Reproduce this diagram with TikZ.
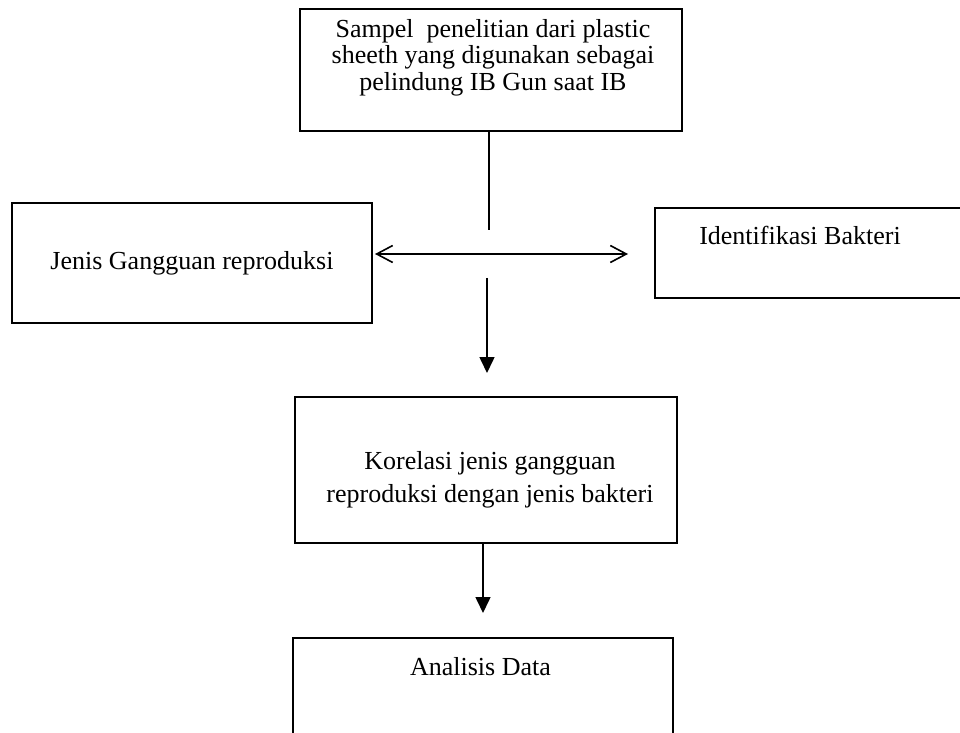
\documentclass[tikz,border=0pt]{standalone}
\usepackage{fontspec}
\setmainfont{Liberation Serif}
\usetikzlibrary{arrows.meta}

\tikzset{
  box/.style={draw, line width=0.9pt, inner sep=0pt, outer sep=0pt},
  lbl/.style={font=\fontsize{13}{13.25}\selectfont, align=center, inner sep=0pt},
  lbltwo/.style={font=\fontsize{13}{16.5}\selectfont, align=center, inner sep=0pt},
  conn/.style={line width=0.8pt},
  flow/.style={conn, -{Triangle[length=8pt, width=7.5pt]}},
  both/.style={conn, {Straight Barb[length=8pt, width=8.5pt]}-{Straight Barb[length=8pt, width=8.5pt]}}
}

\begin{document}
\begin{tikzpicture}[x=0.5pt, y=-0.5pt]
  \useasboundingbox (0,0) rectangle (960,733);
  \clip (0,0) rectangle (960,733);

  % boxes
  \node[box, minimum width=191pt, minimum height=61pt] (top) at (491,70) {};
  \node[box, minimum width=180pt, minimum height=60pt] (lft) at (192,263) {};
  \node[box, minimum width=172.5pt, minimum height=45pt] (rgt) at (827.5,253) {};
  \node[box, minimum width=191pt, minimum height=73pt] (mid) at (486,470) {};
  \node[box, minimum width=190pt, minimum height=81pt] (bot) at (483,719) {};

  % texts
  \node[lbl] (toptext) at (493,57.5) {Sampel\ \ penelitian dari plastic\\sheeth yang digunakan sebagai\\pelindung IB Gun saat IB};
  \node[lbl, anchor=base] (lfttext) at (192,270) {Jenis Gangguan reproduksi};
  \node[lbl, anchor=base] (rgttext) at (800,245) {Identifikasi Bakteri};
  \node[lbltwo] (midtext) at (490,480) {Korelasi jenis gangguan\\reproduksi dengan jenis bakteri};
  \node[lbl, anchor=base] (bottext) at (480.5,675) {Analisis Data};

  % connectors
  \coordinate (v1) at (489,230);
  \coordinate (v2) at (487,278);
  \coordinate (v3) at (487,373);
  \coordinate (hr) at (628,254);
  \coordinate (v4) at (483,613);

  \draw[conn] (top.south -| v1) -- (v1);
  \draw[both] ([xshift=1.5pt]lft.east |- hr) -- (hr);
  \draw[flow] (v2) -- (v3);
  \draw[flow] (mid.south -| v4) -- (v4);
\end{tikzpicture}
\end{document}
